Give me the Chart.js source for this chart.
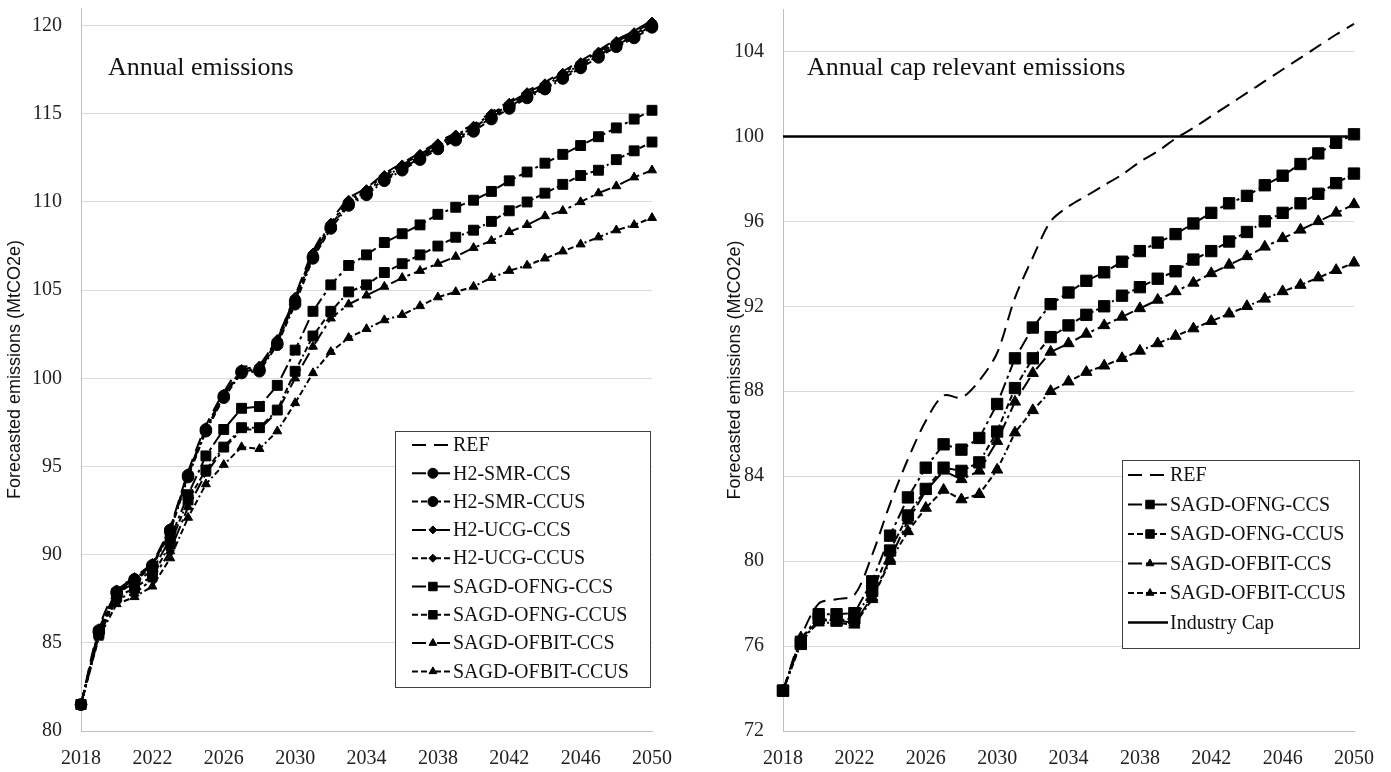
<!DOCTYPE html>
<html>
<head>
<meta charset="utf-8">
<script src="https://cdn.jsdelivr.net/npm/chart.js@4.4.1/dist/chart.umd.min.js"></script>
<style>
  html, body { margin: 0; padding: 0; background: #fff; }
  #wrap { position: relative; width: 1391px; height: 772px; overflow: hidden; }
  .box { position: absolute; top: 0; height: 772px; }
  #leftBox { left: 0; width: 700px; }
  #rightBox { left: 724px; width: 667px; }
</style>
</head>
<body>
<div id="wrap">
  <div class="box" id="leftBox"><canvas id="leftChart"></canvas></div>
  <div class="box" id="rightBox"><canvas id="rightChart"></canvas></div>
</div>
<script>
// Years on the x axis
const years = [2018, 2019, 2020, 2021, 2022, 2023, 2024, 2025, 2026, 2027, 2028,
  2029, 2030, 2031, 2032, 2033, 2034, 2035, 2036, 2037, 2038, 2039, 2040,
  2041, 2042, 2043, 2044, 2045, 2046, 2047, 2048, 2049, 2050];

// Left panel: annual emissions (MtCO2e)
const annualRef = [81.5, 85.8, 88.0, 88.7, 89.5, 91.6, 94.7, 97.3, 99.2, 100.6, 100.8,
  102.3, 104.7, 107.2, 108.9, 110.2, 110.8, 111.6, 112.2, 112.8, 113.4, 113.9, 114.4,
  115.1, 115.7, 116.3, 116.8, 117.4, 118.0, 118.6, 119.2, 119.7, 120.3];
const annualSmrCcs = [81.5, 85.7, 87.9, 88.6, 89.4, 91.4, 94.5, 97.1, 99.0, 100.4, 100.5,
  102.0, 104.4, 106.9, 108.6, 109.9, 110.5, 111.3, 111.9, 112.5, 113.1, 113.6, 114.1,
  114.8, 115.4, 116.0, 116.5, 117.1, 117.7, 118.3, 118.9, 119.4, 120.0];
const annualSmrCcus = [81.5, 85.6, 87.8, 88.5, 89.3, 91.3, 94.4, 97.0, 98.9, 100.3, 100.4,
  101.9, 104.2, 106.8, 108.5, 109.8, 110.4, 111.2, 111.8, 112.4, 113.0, 113.5, 114.0,
  114.7, 115.3, 115.9, 116.4, 117.0, 117.6, 118.2, 118.8, 119.3, 119.9];
const annualUcgCcs = [81.5, 85.8, 88.0, 88.7, 89.5, 91.5, 94.6, 97.2, 99.1, 100.5, 100.7,
  102.2, 104.6, 107.1, 108.8, 110.1, 110.7, 111.5, 112.1, 112.7, 113.3, 113.8, 114.3,
  115.0, 115.6, 116.2, 116.7, 117.3, 117.9, 118.5, 119.1, 119.6, 120.2];
const annualUcgCcus = [81.5, 85.7, 87.9, 88.6, 89.4, 91.4, 94.5, 97.1, 99.0, 100.4, 100.6,
  102.1, 104.5, 107.0, 108.7, 110.0, 110.6, 111.4, 112.0, 112.6, 113.2, 113.7, 114.2,
  114.9, 115.5, 116.1, 116.6, 117.2, 117.8, 118.4, 119.0, 119.5, 120.1];
const annualOfngCcs = [81.5, 85.6, 87.8, 88.4, 89.1, 90.9, 93.4, 95.6, 97.1, 98.3, 98.4,
  99.6, 101.6, 103.8, 105.3, 106.4, 107.0, 107.7, 108.2, 108.7, 109.3, 109.7, 110.1,
  110.6, 111.2, 111.7, 112.2, 112.7, 113.2, 113.7, 114.2, 114.7, 115.2];
const annualOfngCcus = [81.5, 85.5, 87.6, 88.1, 88.8, 90.6, 93.1, 94.8, 96.1, 97.2, 97.2,
  98.2, 100.4, 102.4, 103.8, 104.9, 105.3, 106.0, 106.5, 107.0, 107.5, 108.0, 108.4,
  108.9, 109.5, 110.0, 110.5, 111.0, 111.5, 111.8, 112.4, 112.9, 113.4];
const annualOfbitCcs = [81.5, 85.4, 87.5, 87.8, 88.6, 90.2, 92.7, 94.6, 96.0, 97.1, 97.1,
  98.1, 100.0, 101.8, 103.4, 104.2, 104.7, 105.2, 105.7, 106.1, 106.5, 106.9, 107.4,
  107.8, 108.3, 108.7, 109.2, 109.5, 110.0, 110.5, 110.9, 111.4, 111.8];
const annualOfbitCcus = [81.5, 85.3, 87.2, 87.6, 88.2, 89.8, 92.1, 94.0, 95.1, 96.1, 96.0,
  97.0, 98.6, 100.3, 101.5, 102.3, 102.8, 103.3, 103.6, 104.1, 104.6, 104.9, 105.2,
  105.7, 106.1, 106.4, 106.8, 107.2, 107.6, 108.0, 108.4, 108.7, 109.1];

// Right panel: annual cap relevant emissions (MtCO2e)
const capRef = [73.9, 76.4, 78.0, 78.2, 78.4, 80.3, 82.7, 84.8, 86.6, 87.8, 87.7,
  88.5, 89.8, 92.4, 94.3, 96.0, 96.7, 97.2, 97.7, 98.2, 98.8, 99.3, 99.9,
  100.4, 100.95, 101.5, 102.05, 102.6, 103.15, 103.7, 104.25, 104.8, 105.3];
const capOfngCcs = [73.9, 76.2, 77.5, 77.5, 77.55, 79.05, 81.2, 83.0, 84.4, 85.5, 85.25,
  85.8, 87.4, 89.55, 91.0, 92.1, 92.65, 93.2, 93.6, 94.1, 94.6, 95.0, 95.4,
  95.9, 96.4, 96.85, 97.2, 97.7, 98.15, 98.7, 99.2, 99.7, 100.1];
const capOfngCcus = [73.9, 76.1, 77.3, 77.2, 77.3, 78.6, 80.5, 82.15, 83.4, 84.4, 84.25,
  84.65, 86.1, 88.15, 89.55, 90.55, 91.1, 91.6, 92.0, 92.5, 92.9, 93.3, 93.65,
  94.2, 94.6, 95.05, 95.5, 96.0, 96.4, 96.85, 97.3, 97.8, 98.25];
const capOfbitCcs = [73.9, 76.4, 77.2, 77.2, 77.1, 78.3, 80.1, 81.9, 83.3, 84.25, 83.85,
  84.25, 85.65, 87.5, 88.85, 89.85, 90.25, 90.7, 91.1, 91.5, 91.9, 92.3, 92.7,
  93.1, 93.55, 93.95, 94.35, 94.8, 95.2, 95.6, 96.0, 96.4, 96.8];
const capOfbitCcus = [73.9, 76.3, 77.1, 77.1, 77.0, 78.2, 80.0, 81.4, 82.5, 83.35, 82.9,
  83.15, 84.3, 86.05, 87.1, 88.0, 88.45, 88.9, 89.2, 89.55, 89.9, 90.25, 90.6,
  90.95, 91.3, 91.65, 92.0, 92.35, 92.7, 93.0, 93.35, 93.7, 94.05];
const industryCap = [100, 100, 100, 100, 100, 100, 100, 100, 100, 100, 100,
  100, 100, 100, 100, 100, 100, 100, 100, 100, 100, 100, 100,
  100, 100, 100, 100, 100, 100, 100, 100, 100, 100];

// Line patterns
const refDash = [14, 8];
const ccsDash = [14, 4, 3, 4];
const ccusDash = [6, 3, 6, 3, 2, 3];

const serif = '"Liberation Serif", "Times New Roman", serif';
const sans = '"Liberation Sans", Arial, sans-serif';

Chart.defaults.font.family = serif;
Chart.defaults.font.size = 20;
Chart.defaults.color = "#222";

function series(label, data, dash, pointStyle, radius, legendRadius, width) {
  return {
    label: label,
    data: data,
    borderColor: "#000",
    backgroundColor: "#000",
    borderWidth: width || 2,
    borderDash: dash,
    pointStyle: pointStyle || "circle",
    pointRadius: pointStyle ? radius : 0,
    pointBorderWidth: 1,
    legendRadius: legendRadius,
    tension: pointStyle ? 0 : 0.3,
  };
}

// Draws the boxed legend inside the plot and the panel caption
const boxLegend = {
  id: "boxLegend",
  afterDraw(chart, args, opts) {
    const ctx = chart.ctx;
    ctx.save();
    // caption
    ctx.font = "26px " + serif;
    ctx.fillStyle = "#111";
    ctx.textBaseline = "alphabetic";
    ctx.fillText(opts.caption, opts.captionX, opts.captionY);

    // legend box
    ctx.fillStyle = "#fff";
    ctx.fillRect(opts.x, opts.y, opts.w, opts.h);
    ctx.strokeStyle = "#404040";
    ctx.lineWidth = 1;
    ctx.strokeRect(opts.x + 0.5, opts.y + 0.5, opts.w, opts.h);

    ctx.font = "20px " + serif;
    ctx.textBaseline = "middle";
    chart.data.datasets.forEach((ds, i) => {
      const cy = opts.y + opts.firstRow + i * opts.rowH;
      const x1 = opts.x + opts.lineX1;
      const x2 = opts.x + opts.lineX2;
      ctx.strokeStyle = "#000";
      ctx.lineWidth = ds.borderWidth;
      ctx.setLineDash(ds.borderDash || []);
      ctx.beginPath();
      ctx.moveTo(x1, cy);
      ctx.lineTo(x2, cy);
      ctx.stroke();
      ctx.setLineDash([]);
      if (ds.pointRadius > 0) {
        ctx.fillStyle = "#000";
        ctx.lineWidth = 1;
        Chart.helpers.drawPoint(ctx, {
          pointStyle: ds.pointStyle,
          radius: ds.legendRadius,
          borderWidth: 1,
          rotation: 0,
        }, x1 + (x2 - x1) * 0.55, cy);
      }
      ctx.fillStyle = "#111";
      ctx.fillText(ds.label, opts.x + opts.textX, cy + 1);
    });
    ctx.restore();
  },
};

function makeOptions(yMin, yMax, yStep, axisWidth, padRight, titlePad, legendOpts) {
  return {
    responsive: true,
    maintainAspectRatio: false,
    animation: false,
    layout: { padding: { top: 5, right: padRight, bottom: 0, left: 0 } },
    plugins: {
      legend: { display: false },
      tooltip: { enabled: false },
      boxLegend: legendOpts,
    },
    scales: {
      x: {
        grid: { display: false },
        border: { color: "#bfbfbf", width: 1 },
        ticks: {
          autoSkip: false,
          maxRotation: 0,
          padding: 8,
          callback: function (value, index) {
            return (years[index] - 2018) % 4 === 0 ? years[index] : "";
          },
        },
        afterFit: (scale) => { scale.height = 41; },
      },
      y: {
        min: yMin,
        max: yMax,
        grid: { color: "#d9d9d9", lineWidth: 1, drawTicks: false },
        border: { color: "#bfbfbf", width: 1 },
        ticks: { stepSize: yStep, includeBounds: false, padding: 19 },
        title: {
          display: true,
          text: "Forecasted emissions (MtCO2e)",
          font: { family: sans, size: 18 },
          color: "#111",
          padding: { top: titlePad, bottom: 0 },
        },
        afterFit: (scale) => {
          scale.width = axisWidth;
          scale.paddingTop = 0;
          scale.paddingBottom = 0;
        },
      },
    },
  };
}

document.addEventListener("DOMContentLoaded", function () {
  // Left chart
  new Chart(document.getElementById("leftChart"), {
    type: "line",
    data: {
      labels: years,
      datasets: [
        series("REF", annualRef, refDash),
        series("H2-SMR-CCS", annualSmrCcs, ccsDash, "circle", 5.8, 5),
        series("H2-SMR-CCUS", annualSmrCcus, ccusDash, "circle", 5.8, 5),
        series("H2-UCG-CCS", annualUcgCcs, ccsDash, "rectRot", 5, 4),
        series("H2-UCG-CCUS", annualUcgCcus, ccusDash, "rectRot", 5, 4),
        series("SAGD-OFNG-CCS", annualOfngCcs, ccsDash, "rect", 7, 6),
        series("SAGD-OFNG-CCUS", annualOfngCcus, ccusDash, "rect", 7, 6),
        series("SAGD-OFBIT-CCS", annualOfbitCcs, ccsDash, "triangle", 5.2, 4.5),
        series("SAGD-OFBIT-CCUS", annualOfbitCcus, ccusDash, "triangle", 5.2, 4.5),
      ],
    },
    options: makeOptions(80, 121, 5, 81, 48, 4, {
      caption: "Annual emissions", captionX: 108, captionY: 75,
      x: 395, y: 431, w: 255, h: 256,
      firstRow: 14, rowH: 28.3, lineX1: 17, lineX2: 55, textX: 58,
    }),
    plugins: [boxLegend],
  });

  // Right chart
  new Chart(document.getElementById("rightChart"), {
    type: "line",
    data: {
      labels: years,
      datasets: [
        series("REF", capRef, refDash),
        series("SAGD-OFNG-CCS", capOfngCcs, ccsDash, "rect", 8, 6),
        series("SAGD-OFNG-CCUS", capOfngCcus, ccusDash, "rect", 8, 6),
        series("SAGD-OFBIT-CCS", capOfbitCcs, ccsDash, "triangle", 6.5, 4.5),
        series("SAGD-OFBIT-CCUS", capOfbitCcus, ccusDash, "triangle", 6.5, 4.5),
        series("Industry Cap", industryCap, [], null, 0, 0, 2.5),
      ],
    },
    options: makeOptions(72, 106, 4, 59, 37, 0, {
      caption: "Annual cap relevant emissions", captionX: 83, captionY: 75,
      x: 398, y: 460, w: 237, h: 188,
      firstRow: 15, rowH: 29.5, lineX1: 6, lineX2: 46, textX: 48,
    }),
    plugins: [boxLegend],
  });
});
</script>
</body>
</html>
